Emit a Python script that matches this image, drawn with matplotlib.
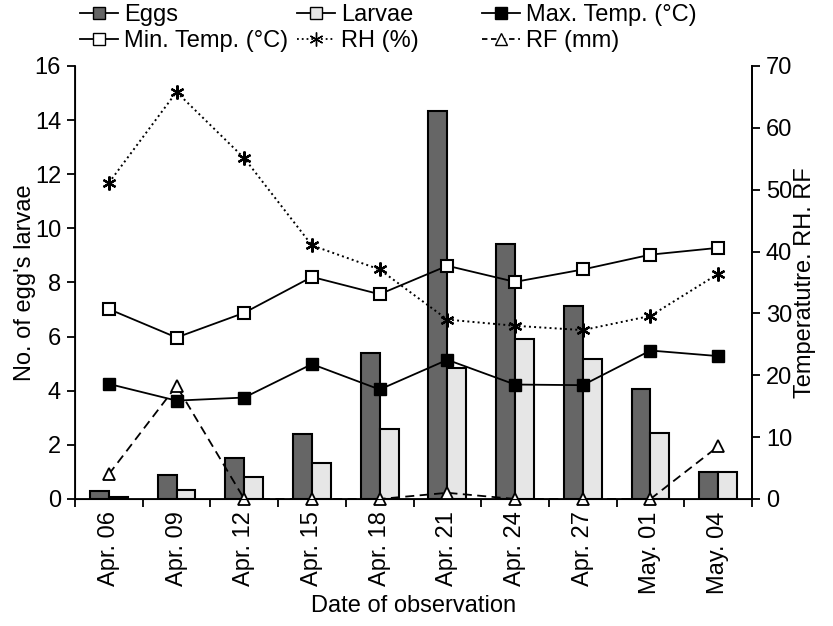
import matplotlib.pyplot as plt
from matplotlib.lines import Line2D
import numpy as np

plt.rcParams['font.family'] = ['Liberation Sans', 'DejaVu Sans']

dates = ["Apr. 06", "Apr. 09", "Apr. 12", "Apr. 15", "Apr. 18",
         "Apr. 21", "Apr. 24", "Apr. 27", "May. 01", "May. 04"]
eggs = [0.3, 0.9, 1.5, 2.4, 5.4, 14.35, 9.42, 7.13, 4.05, 1.0]
larvae = [0.08, 0.34, 0.8, 1.33, 2.6, 4.83, 5.9, 5.17, 2.45, 1.0]
max_temp = [18.6, 15.9, 16.4, 21.8, 17.7, 22.5, 18.5, 18.4, 24.0, 23.1]
min_temp = [30.7, 26.1, 30.1, 35.9, 33.1, 37.7, 35.1, 37.1, 39.5, 40.6]
rh = [51.1, 65.8, 55.1, 41.0, 37.1, 29.0, 28.0, 27.3, 29.6, 36.4]
rf = [4.0, 18.3, 0, 0, 0, 1.0, 0, 0, 0, 8.5]

x = np.arange(len(dates))
w = 0.28
fs = 17

fig = plt.figure(figsize=(8.33, 6.26), dpi=100)
ax = fig.add_axes([0.09, 0.2029, 0.8128, 0.6917])

ax.bar(x - w / 2, eggs, w, color='#666666', edgecolor='black', linewidth=1.5)
ax.bar(x + w / 2, larvae, w, color='#e6e6e6', edgecolor='black', linewidth=1.5)

ax.set_xlim(-0.5, len(dates) - 0.5)
ax.set_ylim(0, 16)
ax.set_yticks(np.arange(0, 17, 2))
ax.set_xticks(x)
ax.set_xticklabels(dates, rotation=90)
ax.set_xticks(np.arange(-0.5, len(dates), 1), minor=True)
ax.tick_params(axis='x', which='major', length=0, labelsize=fs, pad=9)
ax.tick_params(axis='x', which='minor', length=6, width=1.3, direction='out')
ax.tick_params(axis='y', length=6, width=1.3, labelsize=fs, pad=4)
ax.set_ylabel("No. of egg's larvae", fontsize=fs, labelpad=-1)
ax.set_xlabel("Date of observation", fontsize=fs, labelpad=1)
ax.spines['top'].set_visible(False)
for s in ['left', 'bottom', 'right']:
    ax.spines[s].set_linewidth(1.3)

ax2 = ax.twinx()
ax2.set_ylim(0, 70)
ax2.set_yticks(np.arange(0, 71, 10))
ax2.tick_params(axis='y', length=6, width=1.3, labelsize=fs, pad=4)
ax2.spines['top'].set_visible(False)
ax2.spines['right'].set_linewidth(1.3)
ax2.set_ylabel("Temperatutre. RH. RF", fontsize=fs, labelpad=1)

ax2.plot(x, max_temp, '-', color='black', lw=1.3, marker='s', ms=9,
         mfc='black', mec='black', clip_on=False)
ax2.plot(x, min_temp, '-', color='black', lw=1.3, marker='s', ms=9,
         mfc='white', mec='black', mew=1.5, clip_on=False)
ax2.plot(x, rh, ':', color='black', lw=1.4, marker=(6, 2, 0), ms=10,
         mec='black', mew=1.6, clip_on=False)
ax2.plot(x, rf, '--', color='black', lw=1.3, marker='^', ms=9,
         mfc='white', mec='black', mew=1.3, dashes=(5, 3), clip_on=False)

h_eggs = Line2D([], [], color='black', lw=1.3, marker='s', ms=9, mfc='#666666', mec='black')
h_min = Line2D([], [], color='black', lw=1.3, marker='s', ms=9, mfc='white', mec='black')
h_larvae = Line2D([], [], color='black', lw=1.3, marker='s', ms=9, mfc='#e6e6e6', mec='black')
h_rh = Line2D([], [], color='black', lw=1.3, ls=':', marker=(6, 2, 0), ms=10, mec='black')
h_max = Line2D([], [], color='black', lw=1.3, marker='s', ms=9, mfc='black', mec='black')
h_rf = Line2D([], [], color='black', lw=1.3, ls='--', marker='^', ms=9, mfc='white',
              mec='black', dashes=(3, 2))

cols = [([h_eggs, h_min], ["Eggs", "Min. Temp. (°C)"], 80),
        ([h_larvae, h_rh], ["Larvae", "RH (%)"], 297),
        ([h_max, h_rf], ["Max. Temp. (°C)", "RF (mm)"], 482)]
for hs, ls, px in cols:
    fig.legend(hs, ls, loc='upper left', bbox_to_anchor=(px / 833, 1 - 4 / 626),
               frameon=False, fontsize=fs, handlelength=1.6, handletextpad=0.25,
               labelspacing=0.18, borderpad=0, borderaxespad=0)

fig.savefig('out.png', dpi=100)
